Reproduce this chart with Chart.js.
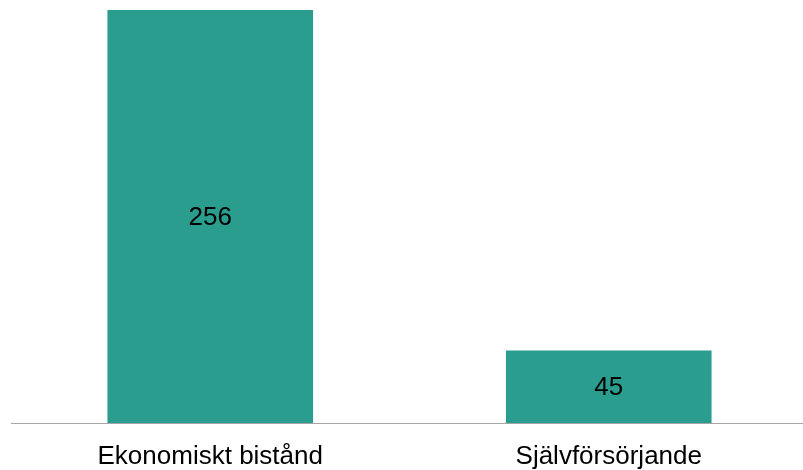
<!DOCTYPE html>
<html>
<head>
<meta charset="utf-8">
<script src="https://cdn.jsdelivr.net/npm/chart.js@4"></script>
<style>
    html, body { margin: 0; padding: 0; background: #fff; overflow: hidden; }
    #wrap { width: 808px; height: 470px; }
</style>
</head>
<body>
<div id="wrap"><canvas id="myChart"></canvas></div>
<script>
var categories = ['Ekonomiskt bistånd', 'Självförsörjande'];
var values = [256, 45];

// draws the value in the middle of each bar
var barLabels = {
    id: 'barLabels',
    afterDatasetsDraw: function (chart) {
        var ctx = chart.ctx;
        var meta = chart.getDatasetMeta(0);
        ctx.save();
        ctx.font = '26px "Liberation Sans", Arial, sans-serif';
        ctx.fillStyle = '#000';
        ctx.textAlign = 'center';
        ctx.textBaseline = 'middle';
        for (let i = 0; i < meta.data.length; i++) {
            let bar = meta.data[i];
            ctx.fillText(values[i], bar.x, (bar.y + bar.base) / 2 + 1);
        }
        ctx.restore();
    }
};

var ctx = document.getElementById('myChart');
var myChart = new Chart(ctx, {
    type: 'bar',
    data: {
        labels: categories,
        datasets: [{
            data: values,
            backgroundColor: 'rgb(42, 157, 143)',
            borderWidth: 0,
            barPercentage: 0.516,
            categoryPercentage: 1
        }]
    },
    options: {
        responsive: true,
        maintainAspectRatio: false,
        animation: false,
        layout: {
            padding: { left: 11, right: 0, top: 10, bottom: 0 }
        },
        plugins: {
            legend: { display: false },
            tooltip: { enabled: false }
        },
        scales: {
            x: {
                grid: { display: false, drawTicks: false },
                border: { display: true, color: '#a6a6a6', width: 1 },
                ticks: {
                    color: '#000',
                    padding: 18,
                    font: { family: '"Liberation Sans", Arial, sans-serif', size: 26 }
                },
                afterFit: function (scale) {
                    scale.height = 47;
                }
            },
            y: {
                display: false,
                min: 0,
                max: 256
            }
        }
    },
    plugins: [barLabels]
});
</script>
</body>
</html>
